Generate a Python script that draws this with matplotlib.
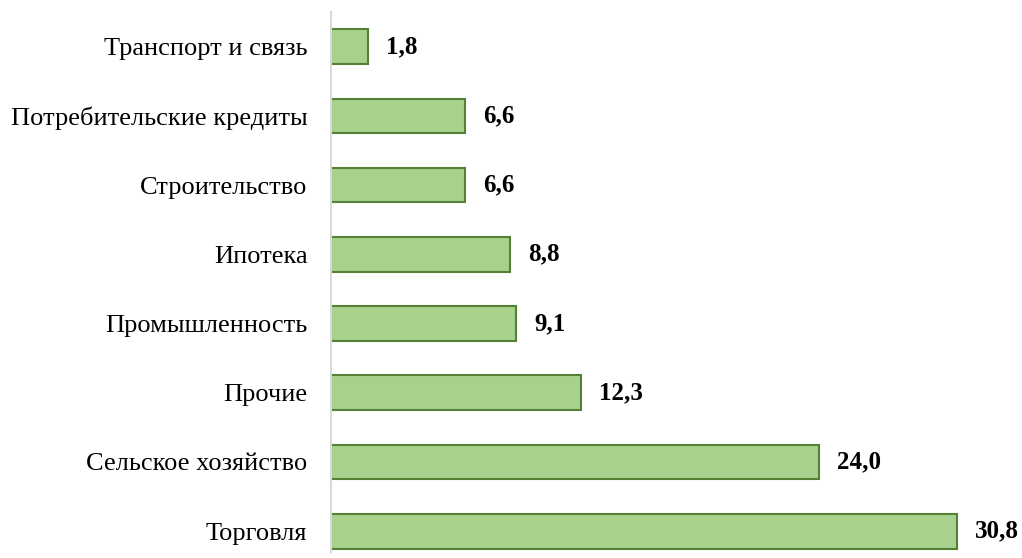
import matplotlib.pyplot as plt

# Данные
categories = ["Торговля", "Сельское хозяйство", "Прочие", "Промышленность",
              "Ипотека", "Строительство", "Потребительские кредиты", "Транспорт и связь"]
values = [30.8, 24.0, 12.3, 9.1, 8.8, 6.6, 6.6, 1.8]

plt.rcParams['font.family'] = ['Liberation Serif', 'DejaVu Serif']

fig = plt.figure(figsize=(10.22, 5.58), dpi=100)
ax = fig.add_axes([331 / 1022, 6 / 558, 1 - 331 / 1022, 540 / 558])

y = list(range(len(categories)))
ax.barh(y, values, height=0.5, color="#A9D18E", edgecolor="#548235", linewidth=1.5)

for yi, v in zip(y, values):
    ax.annotate(f"{v:.1f}".replace(".", ","), (v, yi), xytext=(13, 0),
                textcoords="offset points", va="center", ha="left",
                fontsize=18, fontweight="bold")

ax.set_xlim(0, 34)
ax.set_ylim(-0.3, 7.5)
ax.set_yticks(y)
ax.set_yticklabels(categories, fontsize=19)
ax.set_xticks([])
ax.tick_params(axis="y", length=0, pad=17)

for side in ["top", "right", "bottom"]:
    ax.spines[side].set_visible(False)
ax.spines["left"].set_color("#D9D9D9")
ax.spines["left"].set_linewidth(1.5)

fig.savefig("out.png", dpi=100)
